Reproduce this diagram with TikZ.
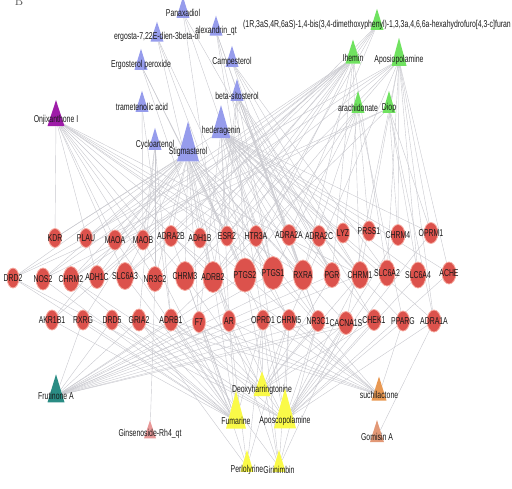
\documentclass[tikz,border=0pt]{standalone}
\usepackage{fontspec}
\newfontfamily\lblfont{Liberation Sans}[FakeStretch=0.69]
\usetikzlibrary{shapes.geometric,backgrounds}

\definecolor{sterolblue}{RGB}{150,156,236}
\definecolor{leafgreen}{RGB}{112,226,96}
\definecolor{onjipurple}{RGB}{158,28,168}
\definecolor{frutteal}{RGB}{42,140,132}
\definecolor{ginspink}{RGB}{232,152,152}
\definecolor{alkyellow}{RGB}{250,250,72}
\definecolor{suchorange}{RGB}{232,152,82}
\definecolor{gomorange}{RGB}{226,152,118}
\definecolor{tgtred}{RGB}{220,82,76}
\definecolor{tgtrim}{RGB}{246,172,162}
\definecolor{edgegray}{RGB}{200,200,206}

\tikzset{
    lbl/.style={font=\lblfont\fontsize{10}{10}\selectfont, inner sep=0pt, text=black!90},
    tgt/.style={ellipse, fill=tgtred, draw=tgtrim, line width=0.8pt, inner sep=0pt},
    cmp/.style n args={3}{isosceles triangle, shape border rotate=90,
        isosceles triangle stretches, inner sep=0pt, fill=#1,
        minimum width=#2pt, minimum height=#3pt},
    edge/.style={draw=edgegray, line width=0.4pt},
}

\begin{document}
\begin{tikzpicture}[x=1pt,y=-1pt]
    \useasboundingbox (0,0) rectangle (512,488);
    \node[anchor=base, font=\fontsize{12}{12}\selectfont, text=black!70] (panelB) at (19,5) {B};

    % targets: name/x/y/width/height
    \foreach \n/\x/\y/\w/\h in {
        KDR/55/238/13/19, PLAU/86/238/13/19, MAOA/115/240/14/20, MAOB/143/240/13/20,
        ADRA2B/171/236/14/21, ADH1B/200/238/13/20, ESR2/227/236/13/20, HTR3A/256/236/14/21,
        ADRA2A/289/235/15/21, ADRA2C/319/236/14/21, LYZ/343/233/13/20, PRSS1/369/231/13/20,
        CHRM4/398/235/14/21, OPRM1/431/233/14/21,
        DRD2/13/278/12/20, NOS2/43/279/14/22, CHRM2/71/279/16/25, ADH1C/97/277/15/23,
        SLC6A3/125/276/17/27, NR3C2/155/279/16/25, CHRM3/185/276/19/29, ADRB2/213/277/20/31,
        PTGS2/245/275/22/34, PTGS1/273/273/21/33, RXRA/303/275/19/30, PGR/332/275/16/25,
        CHRM1/360/275/17/27, SLC6A2/387/273/16/26, SLC6A4/418/275/16/26, ACHE/449/273/14/22,
        AKR1B1/52/320/13/20, RXRG/83/320/13/20, DRD5/112/320/13/20, GRIA2/139/320/14/22,
        ADRB1/171/320/14/22, F7/199/322/13/21, AR/229/321/13/21, OPRD1/263/320/13/20,
        CHRM5/289/320/14/21, NR3C1/318/321/14/21, CACNA1S/346/323/15/23, CHEK1/374/320/14/21,
        PPARG/403/321/13/20, ADRA1A/434/321/14/22}
        \node[tgt, minimum width=\w pt, minimum height=\h pt, label={[lbl]center:\n}] (\n) at (\x,\y) {};

    % compounds
    \node[cmp={sterolblue}{13}{21}, label={[lbl]center:{Panaxadiol}}] (panax) at (183,13) {};
    \node[cmp={sterolblue}{13}{20}, label={[lbl]center:{ergosta-7,22E-dien-3beta-ol}}] (ergosta) at (157,37) {};
    \node[cmp={sterolblue}{13}{20}, label={[lbl]center:{alexandrin\_qt}}] (alex) at (216,31) {};
    \node[cmp={sterolblue}{13}{21}, label={[lbl]center:{Ergosterol peroxide}}] (ergper) at (141,65) {};
    \node[cmp={sterolblue}{13}{21}, label={[lbl]center:{Campesterol}}] (campe) at (232,62) {};
    \node[cmp={sterolblue}{13}{21}, label={[lbl]center:{trametenolic acid}}] (trame) at (142,107) {};
    \node[cmp={sterolblue}{13}{22}, label={[lbl]center:{beta-sitosterol}}] (sito) at (237,96) {};
    \node[cmp={onjipurple}{17}{26}, label={[lbl]center:{Onjixanthone I}}] (onji) at (56,120) {};
    \node[cmp={sterolblue}{19}{33}, label={[lbl]center:{hederagenin}}] (heder) at (221,131) {};
    \node[cmp={sterolblue}{13}{22}, label={[lbl]center:{Cycloartenol}}] (cyclo) at (155,145) {};
    \node[cmp={sterolblue}{22}{40}, label={[lbl,yshift=1pt]center:{Stigmasterol}}] (stigma) at (188,153) {};

    \node[cmp={leafgreen}{13}{21}, label={[lbl]center:{(1R,3aS,4R,6aS)-1,4-bis(3,4-dimethoxyphenyl)-1,3,3a,4,6,6a-hexahydrofuro[4,3-c]furan}}] (bisfuran) at (377,25) {};
    \node[cmp={leafgreen}{15}{24}, label={[lbl]center:{Ihemin}}] (ihemin) at (353,58) {};
    \node[cmp={leafgreen}{15}{28}, label={[lbl]center:{Aposiopolamine}}] (aposio) at (399,60) {};
    \node[cmp={leafgreen}{13}{22}, label={[lbl]center:{arachidonate}}] (arach) at (358,108) {};
    \node[cmp={leafgreen}{13}{22}, label={[lbl]center:{Diop}}] (diop) at (389,108) {};

    \node[cmp={frutteal}{17}{28}, label={[lbl]center:{Frutinone A}}] (frutA) at (56,396) {};
    \node[cmp={ginspink}{12}{18}, label={[lbl]center:{Ginsenoside-Rh4\_qt}}] (ginseno) at (150,434) {};
    \node[cmp={alkyellow}{17}{25}, label={[lbl]center:{Deoxyharringtonine}}] (deoxy) at (262,390) {};
    \node[cmp={alkyellow}{20}{38}, label={[lbl]center:{Fumarine}}] (fumar) at (236,421) {};
    \node[cmp={alkyellow}{22}{40}, label={[lbl,yshift=-1pt]center:{Aposcopolamine}}] (aposco) at (285,420) {};
    \node[cmp={alkyellow}{13}{22}, label={[lbl,yshift=-3pt]center:{Perlolyrine}}] (perlo) at (247,467) {};
    \node[cmp={alkyellow}{13}{22}, label={[lbl,yshift=-3pt]center:{Girinimbin}}] (girin) at (279,467) {};
    \node[cmp={suchorange}{15}{24}, label={[lbl]center:{suchilactone}}] (suchi) at (379,395) {};
    \node[cmp={gomorange}{14}{22}, label={[lbl]center:{Gomisin A}}] (gomisin) at (377,437) {};

    % compound-target links
    \begin{scope}[on background layer]
    \foreach \c/\tl in {
        panax/{PTGS1,PGR,AR},
        ergosta/{ADRB2,PTGS2,CHRM5},
        alex/{PTGS1,RXRA,NR3C1,OPRD1},
        ergper/{PTGS2,AR,ESR2},
        campe/{PGR,CHRM1,RXRA,SLC6A2},
        trame/{MAOB,ADRB1},
        sito/{PGR,RXRA,PTGS1,PTGS2,NR3C1,CHEK1,ADRA2A,ADRB2,ESR2,CHRM1},
        cyclo/{MAOB,GRIA2,ADRB1,NR3C2},
        stigma/{DRD2,NOS2,CHRM2,ADH1C,SLC6A3,NR3C2,CHRM3,ADRB2,PTGS2,PTGS1,RXRA,PGR,MAOA,ADRA2B,ADH1B,KDR,PLAU,ESR2,AR,F7,OPRD1,CHRM5,NR3C1,CACNA1S,AKR1B1,RXRG},
        heder/{PTGS2,PTGS1,RXRA,PGR,CHRM1,SLC6A2,SLC6A4,ACHE,OPRM1,CHRM4,PRSS1,LYZ,ADRA2C,ADRA2A,HTR3A,ESR2,NR3C1,CHEK1,PPARG,ADRA1A,AR,F7,KDR},
        onji/{KDR,ADH1C,SLC6A3,NR3C2,CHRM3,ADRB2,PTGS2,PTGS1,RXRA,HTR3A,ESR2,MAOA,MAOB,CHRM1},
        bisfuran/{ADRA2B,ADH1B,ESR2,HTR3A,ADRA2A},
        ihemin/{CHRM3,ADRB2,SLC6A3,NR3C2,ADH1C,CHRM2,NOS2,MAOA,PLAU,AKR1B1,PTGS2,CHRM1,SLC6A2,RXRA,PGR},
        aposio/{CHRM2,CHRM3,CHRM1,CHRM4,CHRM5,DRD2,ADRB2,SLC6A2,SLC6A4,ACHE,OPRM1,SLC6A3,ADRA1A,CACNA1S},
        arach/{PTGS1,PTGS2,PPARG,RXRA,PRSS1,LYZ},
        diop/{DRD2,NOS2,ADRB1,CHRM4,OPRM1,SLC6A4,ADRA1A},
        frutA/{RXRG,DRD5,GRIA2,ADRB1,F7,AR,OPRD1,CHRM5,NR3C1,CACNA1S,CHEK1,PTGS2,PTGS1,RXRA,PGR,CHRM1},
        ginseno/{NR3C2},
        deoxy/{CHRM5,OPRD1,NR3C1,AR,F7,CACNA1S,CHEK1,ADRB1,GRIA2,CHRM1,PGR},
        fumar/{AKR1B1,RXRG,DRD5,GRIA2,ADRB1,F7,AR,OPRD1,CHRM2,CHRM3,DRD2,NOS2,SLC6A3,ADRB2,ADRA2B,MAOA,MAOB},
        aposco/{CHRM1,CHRM2,CHRM3,CHRM4,CHRM5,OPRD1,NR3C1,CACNA1S,CHEK1,PPARG,ADRA1A,SLC6A2,SLC6A4,ACHE,DRD2,DRD5,ADRB1,ADRB2,OPRM1,HTR3A},
        perlo/{F7,AR,OPRD1,CHRM5,GRIA2},
        girin/{AR,OPRD1,CHRM5,NR3C1,CACNA1S,PTGS2,ADRB1},
        suchi/{ADRB1,F7,AR,OPRD1,CHRM5,ADRA2B,PTGS2,PTGS1,PPARG,GRIA2},
        gomisin/{ADRA1A}}
        \foreach \t in \tl
            \draw[edge] (\c) -- (\t);
    \end{scope}
\end{tikzpicture}
\end{document}
